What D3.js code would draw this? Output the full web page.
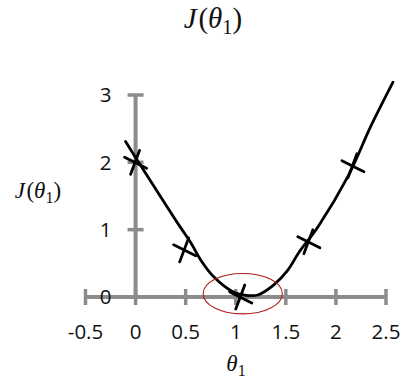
<!DOCTYPE html>
<html>
<head>
<meta charset="utf-8">
<script src="https://cdn.jsdelivr.net/npm/d3@7"></script>
<style>
  html, body { margin: 0; padding: 0; background: #ffffff; }
  svg { display: block; }
</style>
</head>
<body>
<svg id="chart" width="410" height="384"></svg>
<script>
// ---- data ----
const xTicks = [-0.5, 0, 0.5, 1, 1.5, 2, 2.5];
const xTickLabels = ["-0.5", "0", "0.5", "1", "1.5", "2", "2.5"];
const yTicks = [0, 1, 2, 3];
const yTickLabels = ["0", "1", "2", "3"];

// hand-drawn cost curve J(theta1)
const curveTheta = [-0.10, 0.03, 0.25, 0.45, 0.55, 0.65, 0.78, 0.98, 1.08, 1.22, 1.38, 1.52, 1.63, 1.82, 2.12, 2.35, 2.57];
const curveJ     = [ 2.31, 2.00, 1.49, 1.03, 0.81, 0.55, 0.30, 0.07, 0.03, 0.03, 0.18, 0.40, 0.66, 1.04, 1.79, 2.54, 3.19];

// "x" marks drawn on the curve
const markTheta = [0.00, 0.49, 1.05, 1.73, 2.17];
const markJ     = [2.00, 0.70, 0.00, 0.82, 1.95];

// red ellipse around the minimum (centre and half-widths in data units)
const ellipseCenter = [1.07, 0.05];
const ellipseHalf = [0.395, 0.30];

// ---- layout ----
const svg = d3.select("#chart");
const x = d3.scaleLinear().domain([-0.5, 2.5]).range([85.5, 386]);
const y = d3.scaleLinear().domain([0, 3]).range([297, 95]);
const axisColor = "#8c8c8c";

// x axis
const gx = svg.append("g");
gx.append("line")
  .attr("x1", x(-0.5)).attr("x2", x(2.5))
  .attr("y1", y(0)).attr("y2", y(0))
  .attr("stroke", axisColor).attr("stroke-width", 4);
gx.selectAll("line.tick").data(xTicks).join("line")
  .attr("class", "tick")
  .attr("x1", d => x(d)).attr("x2", d => x(d))
  .attr("y1", y(0) - 8).attr("y2", y(0) + 8)
  .attr("stroke", axisColor).attr("stroke-width", 3.5);
gx.selectAll("text").data(xTicks).join("text")
  .attr("x", d => x(d)).attr("y", y(0) + 42)
  .attr("text-anchor", "middle")
  .attr("font-family", "Open Sans, Liberation Sans, sans-serif")
  .attr("font-size", 20.5)
  .attr("fill", "#111")
  .text((d, i) => xTickLabels[i]);

// y axis
const gy = svg.append("g");
gy.append("line")
  .attr("x1", x(0)).attr("x2", x(0))
  .attr("y1", y(3)).attr("y2", y(0))
  .attr("stroke", axisColor).attr("stroke-width", 4);
gy.selectAll("line.tick").data(yTicks.filter(d => d > 0)).join("line")
  .attr("class", "tick")
  .attr("x1", x(0) - 8).attr("x2", x(0) + 8)
  .attr("y1", d => y(d)).attr("y2", d => y(d))
  .attr("stroke", axisColor).attr("stroke-width", 3.5);
gy.selectAll("text").data(yTicks).join("text")
  .attr("x", x(0) - 24).attr("y", d => y(d))
  .attr("dy", "0.36em")
  .attr("text-anchor", "end")
  .attr("font-family", "Open Sans, Liberation Sans, sans-serif")
  .attr("font-size", 20.5)
  .attr("fill", "#111")
  .text((d, i) => yTickLabels[i]);

// curve
const pts = curveTheta.map((t, i) => [t, curveJ[i]]);
const line = d3.line().x(d => x(d[0])).y(d => y(d[1])).curve(d3.curveCatmullRom.alpha(0.5));
svg.append("path")
  .attr("d", line(pts))
  .attr("fill", "none")
  .attr("stroke", "#000")
  .attr("stroke-width", 2.8)
  .attr("stroke-linecap", "round")
  .attr("stroke-linejoin", "round");

// x marks
const marks = svg.append("g")
  .attr("stroke", "#000").attr("stroke-width", 2.8).attr("stroke-linecap", "round");
markTheta.forEach((t, i) => {
  const cx = x(t), cy = y(markJ[i]);
  marks.append("line").attr("x1", cx - 11).attr("y1", cy - 5).attr("x2", cx + 11).attr("y2", cy + 6);
  marks.append("line").attr("x1", cx + 4).attr("y1", cy - 12).attr("x2", cx - 5).attr("y2", cy + 12);
});

// red ellipse
svg.append("ellipse")
  .attr("cx", x(ellipseCenter[0])).attr("cy", y(ellipseCenter[1]))
  .attr("rx", x(ellipseHalf[0]) - x(0)).attr("ry", y(0) - y(ellipseHalf[1]))
  .attr("fill", "none").attr("stroke", "#b01c1c").attr("stroke-width", 1.1);

// math labels
const mathFont = "Liberation Serif, DejaVu Serif, serif";
function mathLabel(px, py, size, withJ) {
  const t = svg.append("text")
    .attr("x", px).attr("y", py)
    .attr("text-anchor", "middle")
    .attr("font-family", mathFont)
    .attr("font-size", size)
    .attr("fill", "#111");
  if (withJ) {
    t.append("tspan").attr("font-style", "italic").text("J");
    t.append("tspan").attr("dx", size * 0.06).text("(");
  }
  t.append("tspan").attr("font-style", "italic").text("θ");
  t.append("tspan").attr("font-size", size * 0.7).attr("dy", size * 0.22).text("1");
  if (withJ) {
    t.append("tspan").attr("dy", -size * 0.22).text(")");
  }
  return t;
}
mathLabel(213, 28, 29, true);
mathLabel(38, 198, 23, true);
mathLabel(236, 371, 23, false);
</script>
</body>
</html>
